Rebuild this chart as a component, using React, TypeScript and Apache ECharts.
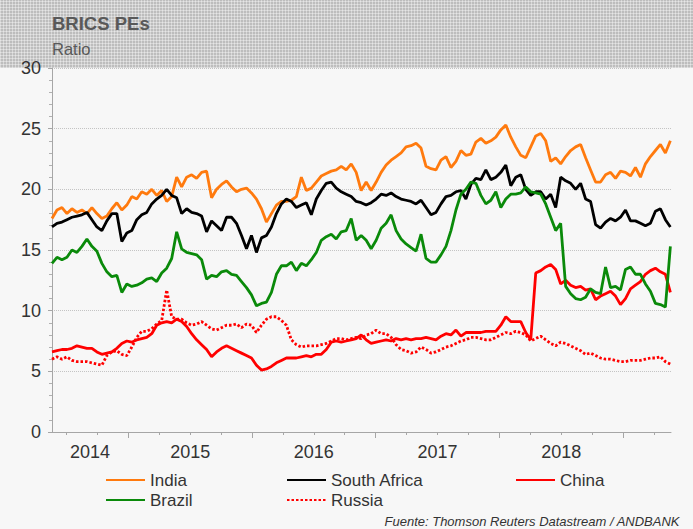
import React, { useEffect, useRef } from "react";
import * as echarts from "echarts";

// Sampling: 125 points, about every two weeks, from mid-May 2014 to mid-May 2019 (decimal years)
const START_YEAR = 2014.383;
const END_YEAR = 2019.383;
const N_POINTS = 125;

const seriesNames = ["India", "South Africa", "China", "Brazil", "Russia"];
const yearLabels = [2014, 2015, 2016, 2017, 2018];
const yearLabelPositions = [2014.69, 2015.5, 2016.5, 2017.5, 2018.5];
const yearTicks = [2015, 2016, 2017, 2018, 2019];
const quarterTicks = [
  2014.5, 2014.75, 2015, 2015.25, 2015.5, 2015.75, 2016, 2016.25, 2016.5, 2016.75,
  2017, 2017.25, 2017.5, 2017.75, 2018, 2018.25, 2018.5, 2018.75, 2019, 2019.25,
];

const india = [
  17.6, 18.3, 18.5, 18.0, 18.4, 18.1, 18.3, 18.0, 18.5, 18.0,
  17.6, 17.8, 18.4, 18.9, 18.3, 18.7, 19.4, 19.2, 19.8, 19.6,
  20.0, 19.5, 19.9, 19.0, 19.4, 21.0, 20.2, 21.0, 21.2, 20.9,
  21.4, 21.5, 19.3, 20.0, 20.4, 20.7, 20.2, 19.8, 20.0, 20.1,
  19.7, 19.2, 18.4, 17.3, 18.0, 18.7, 19.0, 19.0, 19.1, 19.4,
  21.0, 19.9, 20.1, 20.6, 21.1, 21.3, 21.5, 21.6, 21.9, 21.6,
  22.1, 21.4, 19.9, 20.6, 19.9, 20.6, 21.4, 22.0, 22.4, 22.7,
  23.0, 23.5, 23.6, 23.8, 23.4, 21.9, 21.7, 21.6, 22.4, 22.7,
  21.8, 22.3, 23.2, 22.8, 22.9, 23.9, 24.2, 23.8, 24.0, 24.3,
  24.9, 25.3, 24.3, 23.5, 22.8, 22.6, 23.5, 24.4, 24.6, 24.0,
  22.3, 22.6, 22.1, 22.7, 23.2, 23.5, 23.7, 22.6, 21.6, 20.6,
  20.6, 21.2, 21.4, 20.9, 21.5, 21.4, 21.1, 21.8, 21.0, 22.1,
  22.7, 23.2, 23.7, 23.0, 24.0,
];

const southAfrica = [
  16.9, 17.2, 17.3, 17.5, 17.7, 17.8, 17.9, 18.1, 17.5, 16.9,
  16.6, 17.4, 18.0, 18.0, 15.7, 16.4, 16.6, 17.5, 17.9, 18.1,
  18.8, 19.2, 19.5, 20.0, 19.5, 19.3, 18.0, 18.4, 18.1, 18.0,
  17.8, 16.5, 17.4, 17.0, 16.6, 17.7, 17.7, 17.2, 16.2, 15.1,
  16.2, 14.8, 16.0, 16.2, 16.9, 18.0, 18.8, 19.2, 19.0, 18.5,
  18.7, 18.9, 17.9, 19.2, 19.9, 20.5, 20.6, 20.1, 19.8, 19.6,
  19.4, 19.0, 18.9, 18.7, 18.9, 19.2, 19.6, 19.5, 19.7, 19.4,
  19.2, 19.1, 19.0, 18.8, 19.1, 18.5, 17.9, 18.1, 18.8, 19.4,
  19.5, 19.8, 19.9, 19.2, 20.4, 20.9, 20.8, 21.6, 20.8, 21.0,
  21.4, 22.0, 20.3, 21.0, 21.2, 20.0, 19.5, 19.8, 19.8, 19.2,
  19.6, 18.5, 21.0, 20.7, 20.5, 20.0, 20.5, 19.2, 19.0, 17.1,
  16.8, 17.3, 17.6, 17.4, 17.7, 18.3, 17.4, 17.4, 17.2, 17.0,
  17.2, 18.2, 18.4, 17.5, 16.9,
];

const china = [
  6.6, 6.7, 6.8, 6.8, 6.9, 7.1, 7.0, 6.9, 6.9, 6.6,
  6.4, 6.5, 6.6, 6.9, 7.3, 7.5, 7.4, 7.6, 7.7, 7.8,
  8.1, 8.8, 9.0, 9.1, 9.0, 9.3, 9.1, 8.7, 8.1, 7.6,
  7.2, 6.8, 6.2, 6.6, 6.9, 7.1, 6.9, 6.7, 6.5, 6.3,
  6.1, 5.5, 5.1, 5.2, 5.4, 5.7, 5.9, 6.1, 6.1, 6.1,
  6.2, 6.3, 6.2, 6.4, 6.4, 6.8, 7.4, 7.5, 7.4, 7.5,
  7.6, 7.7, 8.0, 7.6, 7.3, 7.4, 7.5, 7.6, 7.5, 7.7,
  7.6, 7.7, 7.6, 7.7, 7.7, 7.8, 7.7, 7.6, 7.9, 8.1,
  8.0, 8.4, 7.9, 8.2, 8.2, 8.2, 8.2, 8.3, 8.3, 8.3,
  8.8, 9.5, 9.1, 9.1, 9.1, 8.2, 7.6, 13.1, 13.3, 13.6,
  13.8, 13.4, 12.2, 12.5, 12.1, 11.9, 12.0, 11.7, 11.8, 10.9,
  11.2, 11.4, 11.6, 11.2, 10.5, 11.0, 11.8, 12.1, 12.4, 13.0,
  13.3, 13.5, 13.2, 13.0, 11.5,
];

const brazil = [
  13.9, 14.4, 14.2, 14.4, 15.0, 14.8, 15.3, 15.9, 15.3, 14.9,
  13.9, 13.2, 12.8, 12.9, 11.5, 12.2, 12.0, 12.1, 12.3, 12.6,
  12.7, 12.4, 13.1, 13.5, 14.3, 16.5, 15.1, 14.8, 14.7, 14.6,
  14.2, 12.6, 12.9, 12.8, 13.2, 13.3, 13.0, 12.9, 12.4, 11.9,
  11.3, 10.4, 10.6, 10.7, 11.5, 13.0, 13.7, 13.7, 14.0, 13.3,
  13.9, 13.7, 14.2, 14.8, 15.8, 16.1, 16.3, 15.9, 16.5, 16.6,
  17.6, 15.8, 16.2, 15.8, 15.1, 15.8, 16.8, 17.2, 17.9, 16.6,
  15.9, 15.5, 15.2, 14.9, 16.3, 14.3, 14.0, 14.0, 14.6, 15.3,
  16.6, 18.3, 19.6, 20.0, 20.6, 20.5, 19.5, 18.8, 19.1, 19.8,
  18.5, 19.2, 19.6, 19.6, 19.7, 20.2, 19.8, 19.7, 19.6, 18.8,
  17.7, 16.6, 17.2, 12.0, 11.4, 11.0, 10.9, 11.1, 11.8, 11.5,
  11.4, 13.6, 11.9, 12.0, 11.7, 13.4, 13.6, 13.0, 13.0, 12.2,
  11.6, 10.6, 10.5, 10.3, 15.3,
];

const russia = [
  6.0, 6.2, 6.0, 6.2, 5.9, 5.8, 5.8, 5.8, 5.7, 5.6,
  5.5, 6.3, 6.6, 6.7, 6.4, 6.3, 7.0, 7.8, 8.3, 8.3,
  8.5, 8.9, 9.2, 11.7, 9.5, 9.3, 9.3, 9.0, 8.8, 8.9,
  9.1, 8.8, 8.5, 8.4, 8.6, 8.8, 8.8, 8.9, 8.6, 8.9,
  8.8, 8.2, 8.8, 9.3, 9.5, 9.5, 9.2, 8.8, 7.6, 7.2,
  7.0, 7.1, 7.1, 7.1, 7.2, 7.3, 7.5, 7.7, 7.7, 7.6,
  7.7, 7.8, 7.7, 8.0, 8.1, 8.4, 8.1, 8.1, 7.8, 7.2,
  6.8, 6.7, 6.5, 6.6, 7.0, 6.8, 6.5, 6.6, 6.8, 7.0,
  7.1, 7.3, 7.5, 7.6, 7.8, 7.8, 7.7, 7.6, 7.6, 7.8,
  8.0, 8.2, 8.1, 8.3, 8.2, 8.0, 7.5, 7.7, 7.9, 7.6,
  7.3, 7.1, 7.4, 7.3, 7.1, 6.9, 6.7, 6.4, 6.5, 6.3,
  6.1, 6.0, 6.0, 5.9, 5.8, 5.8, 5.9, 5.9, 5.9, 6.0,
  6.1, 6.1, 6.2, 5.8, 5.6,
];

const seriesValues = [india, southAfrica, china, brazil, russia];
const seriesColors = ["#ff7a0e", "#000000", "#ff0000", "#0a8a0a", "#ff0000"];

const STEP = (END_YEAR - START_YEAR) / (N_POINTS - 1);
const dates = Array.from({ length: N_POINTS }, (_, i) => START_YEAR + i * STEP);

const FONT = "'Liberation Sans', Arial, Helvetica, sans-serif";

export default function App() {
  const ref = useRef<HTMLDivElement>(null);

  useEffect(() => {
    if (!ref.current) return;
    const chart = echarts.init(ref.current, undefined, { renderer: "svg" });

    const series = seriesNames.map((name, k) => ({
      name,
      type: "line",
      xAxisIndex: 0,
      yAxisIndex: 0,
      data: dates.map((d, i) => [d, seriesValues[k][i]]),
      showSymbol: false,
      symbol: "none",
      lineStyle: {
        color: seriesColors[k],
        width: 2.8,
        type: name === "Russia" ? [2.5, 2] : "solid",
        cap: "butt",
      },
      itemStyle: { color: seriesColors[k] },
      emphasis: { disabled: true },
      z: 2 + k,
    }));

    const legendCommon = {
      orient: "vertical",
      top: 466,
      itemWidth: 39,
      itemHeight: 14,
      itemGap: 2,
      selectedMode: false,
      itemStyle: { opacity: 0, borderWidth: 0 },
      textStyle: { fontSize: 17, color: "#333333", fontFamily: FONT, lineHeight: 18 },
    };

    chart.setOption({
      animation: false,
      backgroundColor: "transparent",
      textStyle: { fontFamily: FONT },
      grid: {
        left: 52,
        right: 22,
        top: 68,
        bottom: 97,
        containLabel: false,
        outerBoundsMode: "none",
      },
      legend: [
        { ...legendCommon, left: 100, data: ["India", "Brazil"] },
        { ...legendCommon, left: 281, data: ["South Africa", "Russia"] },
        { ...legendCommon, left: 510, data: ["China"] },
      ],
      xAxis: [
        {
          type: "value",
          min: START_YEAR,
          max: 2019.388,
          position: "bottom",
          axisLine: { show: true, onZero: false, lineStyle: { color: "#a6a6a6", width: 1 } },
          axisTick: {
            show: true,
            customValues: quarterTicks,
            length: 3,
            lineStyle: { color: "#a6a6a6" },
          },
          axisLabel: {
            show: true,
            customValues: yearLabelPositions,
            formatter: (v: number) => {
              const idx = yearLabelPositions.findIndex((p) => Math.abs(p - v) < 0.01);
              return idx >= 0 ? String(yearLabels[idx]) : "";
            },
            fontSize: 18,
            color: "#333333",
            margin: 11,
            fontFamily: FONT,
          },
          splitLine: { show: false },
        },
        {
          type: "value",
          min: START_YEAR,
          max: 2019.388,
          position: "bottom",
          axisLine: { show: false, onZero: false },
          axisTick: {
            show: true,
            customValues: yearTicks,
            length: 6,
            lineStyle: { color: "#a6a6a6" },
          },
          axisLabel: { show: false },
          splitLine: { show: false },
        },
      ],
      yAxis: {
        type: "value",
        min: 0,
        max: 30,
        interval: 5,
        axisLine: { show: true, lineStyle: { color: "#a6a6a6", width: 1 } },
        axisTick: { show: true, length: 4, lineStyle: { color: "#a6a6a6" } },
        minorTick: { show: true, splitNumber: 5, length: 3, lineStyle: { color: "#b0b0b0" } },
        axisLabel: { fontSize: 18, color: "#333333", margin: 11, fontFamily: FONT },
        splitLine: { show: true, lineStyle: { color: "#c4c4c4", type: "dotted", width: 1 } },
      },
      graphic: [
        {
          type: "text",
          left: 52,
          top: 14,
          style: {
            text: "BRICS PEs",
            fontSize: 18.5,
            fontWeight: "bold",
            fill: "#595959",
            fontFamily: FONT,
          },
        },
        {
          type: "text",
          left: 52,
          top: 40,
          style: { text: "Ratio", fontSize: 16.5, fill: "#595959", fontFamily: FONT },
        },
        {
          type: "text",
          right: 13,
          top: 515,
          style: {
            text: "Fuente: Thomson Reuters Datastream / ANDBANK",
            fontSize: 13,
            fontStyle: "italic",
            fill: "#333333",
            fontFamily: FONT,
          },
        },
      ],
      series,
    });

    return () => {
      chart.dispose();
    };
  }, []);

  const texture =
    "repeating-linear-gradient(90deg, rgba(255,255,255,0.38) 0px, rgba(255,255,255,0.38) 1px, transparent 1px, transparent 3px), " +
    "repeating-linear-gradient(0deg, rgba(255,255,255,0.38) 0px, rgba(255,255,255,0.38) 1px, transparent 1px, transparent 3px)";

  return (
    <div
      style={{
        position: "absolute",
        left: 0,
        top: 0,
        width: 693,
        height: 529,
        background: "#f7f7f7",
        overflow: "hidden",
      }}
    >
      <div
        style={{
          position: "absolute",
          left: 0,
          top: 0,
          width: 693,
          height: 68,
          backgroundColor: "#bdbdbd",
          backgroundImage: texture,
        }}
      />
      <div ref={ref} style={{ position: "absolute", left: 0, top: 0, width: 693, height: 529 }} />
    </div>
  );
}
